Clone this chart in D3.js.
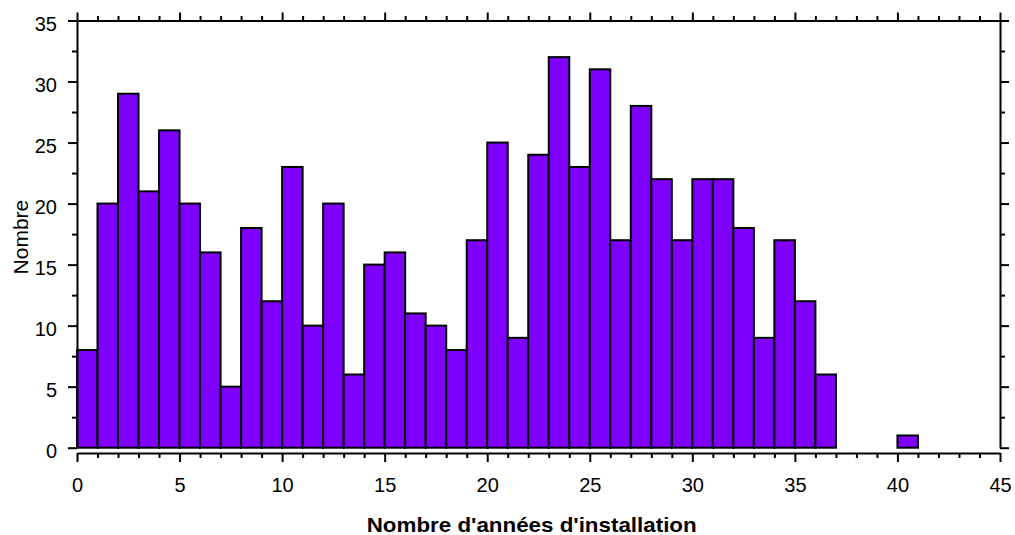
<!DOCTYPE html>
<html>
<head>
<meta charset="utf-8">
<script src="https://cdn.jsdelivr.net/npm/d3@7"></script>
<style>
  html, body { margin: 0; padding: 0; background: #fff; }
  svg text { font-family: "Liberation Sans", Arial, sans-serif; fill: #000; }
</style>
</head>
<body>
<svg id="chart" width="1015" height="535"></svg>
<script>
// Data: histogram bins (start of each 1-year bin) and counts
const binStarts = [0,1,2,3,4,5,6,7,8,9,10,11,12,13,14,15,16,17,18,19,20,21,22,23,24,25,26,27,28,29,30,31,32,33,34,35,36,37,38,39,40];
const counts    = [8,20,29,21,26,20,16,5,18,12,23,10,20,6,15,16,11,10,8,17,25,9,24,32,23,31,17,28,22,17,22,22,18,9,17,12,6,0,0,0,1];
const binWidth = 1;
const xTicks = [0,5,10,15,20,25,30,35,40,45];
const xMinorTicks = d3.range(0, 46, 1);
const yTicks = [0,5,10,15,20,25,30,35];
const yMinorTicks = [2.5,7.5,12.5,17.5,22.5,27.5,32.5];
const xTitle = "Nombre d'années d'installation";
const yTitle = "Nombre";

(function () {
const svg = d3.select("#chart");
const mLeft = 77, mRight = 1000, mTop = 20.5, mBottom = 447.7, xAxisY = 453;

const x = d3.scaleLinear().domain([0, 45]).range([mLeft, mRight]);
const y = d3.scaleLinear().domain([0, 35]).range([mBottom, mTop]);

const data = binStarts.map((b, i) => ({ b, c: counts[i] })).filter(d => d.c > 0);

// Bars
svg.append("g").selectAll("rect").data(data).enter().append("rect")
  .attr("x", d => x(d.b))
  .attr("y", d => y(d.c))
  .attr("width", d => x(d.b + binWidth) - x(d.b))
  .attr("height", d => y(0) - y(d.c))
  .attr("fill", "#8000FF")
  .attr("stroke", "#000")
  .attr("stroke-width", 2);

function styleAxis(g) {
  g.selectAll("path").attr("stroke", "#000").attr("stroke-width", 2);
  g.selectAll("line").attr("stroke", "#000").attr("stroke-width", 2);
  g.selectAll("text").style("font-size", "20px").attr("fill", "#000");
}

// Left axis
const gl = svg.append("g").attr("transform", `translate(${mLeft},0)`)
  .call(d3.axisLeft(y).tickValues(yTicks).tickSize(9).tickSizeOuter(0).tickPadding(11).tickFormat(d3.format("d")));
gl.selectAll("text").attr("dy", "0.48em");
styleAxis(gl);
const glm = svg.append("g").attr("transform", `translate(${mLeft},0)`)
  .call(d3.axisLeft(y).tickValues(yMinorTicks).tickSize(5).tickSizeOuter(0).tickFormat(""));
glm.select("path").remove();
styleAxis(glm);

// Right axis
const gr = svg.append("g").attr("transform", `translate(${mRight},0)`)
  .call(d3.axisRight(y).tickValues(yTicks).tickSize(9).tickSizeOuter(0).tickFormat(""));
styleAxis(gr);
const grm = svg.append("g").attr("transform", `translate(${mRight},0)`)
  .call(d3.axisRight(y).tickValues(yMinorTicks).tickSize(5).tickSizeOuter(0).tickFormat(""));
grm.select("path").remove();
styleAxis(grm);

// Top axis
const gt = svg.append("g").attr("transform", `translate(0,${mTop})`)
  .call(d3.axisTop(x).tickValues(xTicks).tickSize(8).tickSizeOuter(0).tickFormat(""));
styleAxis(gt);
const gtm = svg.append("g").attr("transform", `translate(0,${mTop})`)
  .call(d3.axisTop(x).tickValues(xMinorTicks.filter(v => v % 5 !== 0)).tickSize(4.5).tickSizeOuter(0).tickFormat(""));
gtm.select("path").remove();
styleAxis(gtm);

// Bottom axis (offset below the plot)
const gb = svg.append("g").attr("transform", `translate(0,${xAxisY})`)
  .call(d3.axisBottom(x).tickValues(xTicks).tickSize(9).tickSizeOuter(0).tickPadding(16).tickFormat(d3.format("d")));
styleAxis(gb);
const gbm = svg.append("g").attr("transform", `translate(0,${xAxisY})`)
  .call(d3.axisBottom(x).tickValues(xMinorTicks.filter(v => v % 5 !== 0)).tickSize(5).tickSizeOuter(0).tickFormat(""));
gbm.select("path").remove();
styleAxis(gbm);

// Titles
svg.append("text")
  .attr("x", 531.7).attr("y", 531.5)
  .attr("text-anchor", "middle")
  .attr("textLength", 330).attr("lengthAdjust", "spacingAndGlyphs")
  .style("font-size", "21px").style("font-weight", "bold")
  .text(xTitle);

svg.append("text")
  .attr("transform", `translate(28,${(mTop + mBottom) / 2 + 3}) rotate(-90)`)
  .attr("text-anchor", "middle")
  .style("font-size", "21px")
  .text(yTitle);
})();
</script>
</body>
</html>
